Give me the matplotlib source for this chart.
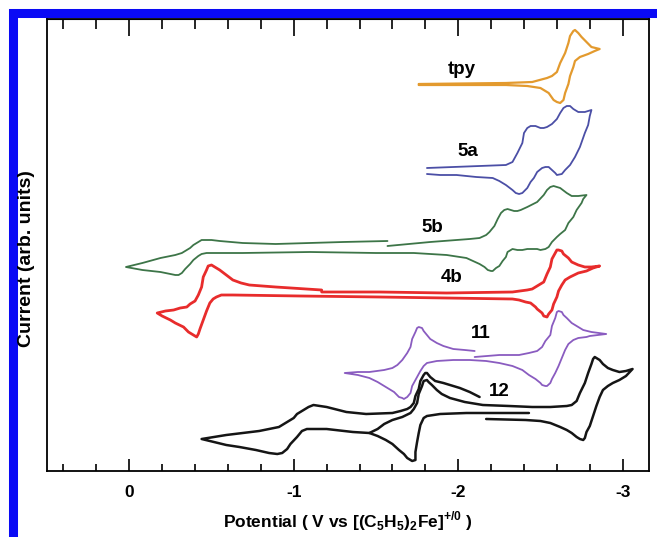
import matplotlib
matplotlib.use("Agg")
import matplotlib.pyplot as plt
from matplotlib.patches import Rectangle
from matplotlib.ticker import MultipleLocator

plt.rcParams['font.family'] = ['Liberation Sans', 'DejaVu Sans']
plt.rcParams['font.weight'] = 'bold'
plt.rcParams['axes.unicode_minus'] = False
plt.rcParams['mathtext.fontset'] = 'custom'
plt.rcParams['mathtext.rm'] = 'Liberation Sans:bold'

# potential (V vs Fc+/0) and current (arb. units, traces stacked)
tpy_E = [-1.76, -2.29, -2.45, -2.54, -2.57, -2.60, -2.62, -2.65, -2.67, -2.68, -2.70, -2.71, -2.73,
         -2.75, -2.78, -2.81, -2.86, -2.83, -2.79, -2.74, -2.71, -2.70, -2.68, -2.67, -2.65, -2.64,
         -2.62, -2.60, -2.58, -2.55, -2.50, -2.42, -2.29, -1.76]
tpy_I = [388, 389, 390, 394, 396, 400, 409, 419, 429, 436, 441, 442, 439,
         435, 430, 425, 423, 421, 418, 415, 411, 405, 396, 388, 379, 372,
         369, 370, 372, 379, 384, 386, 387, 387]

a5_E = [-1.81, -2.29, -2.33, -2.36, -2.39, -2.40, -2.42, -2.44, -2.47, -2.50, -2.52, -2.54, -2.57,
        -2.60, -2.62, -2.64, -2.66, -2.68, -2.70, -2.73, -2.77, -2.81,
        -2.80, -2.79, -2.77, -2.74, -2.71, -2.68, -2.65, -2.63, -2.60, -2.59, -2.57, -2.55, -2.53,
        -2.51, -2.48, -2.46, -2.44, -2.42, -2.39, -2.37, -2.35, -2.33, -2.29, -2.25, -2.21, -2.11,
        -1.99, -1.89, -1.81]
a5_I = [304, 307, 310, 319, 329, 339, 344, 346, 346, 344, 344, 345, 348,
        353, 359, 364, 366, 366, 363, 360, 360, 362,
        356, 347, 339, 325, 315, 307, 302, 298, 297, 299, 302, 305, 305,
        304, 300, 294, 290, 284, 279, 278, 279, 282, 287, 291, 294, 295,
        297, 297, 298]

b5_E = [-1.57, -1.83, -2.07, -2.13, -2.17, -2.19, -2.22, -2.24, -2.26, -2.28, -2.30, -2.32, -2.34,
        -2.36, -2.38, -2.42, -2.48, -2.52, -2.54, -2.56, -2.58, -2.60, -2.62, -2.66, -2.69, -2.73,
        -2.78,
        -2.76, -2.75, -2.72, -2.70, -2.67, -2.65, -2.62, -2.60, -2.57, -2.55, -2.53, -2.50, -2.48,
        -2.42, -2.39, -2.36, -2.33, -2.32, -2.30, -2.29, -2.27, -2.25, -2.23, -2.21, -2.20, -2.18,
        -2.16, -2.13, -2.09, -2.05, -1.93, -1.73, -1.50, -1.10, -0.69, -0.52, -0.47, -0.44, -0.42,
        -0.39, -0.37, -0.34, -0.32, -0.30, -0.28, -0.25, -0.19, -0.08, 0.02,
        -0.08, -0.19, -0.28, -0.32, -0.34, -0.37, -0.39, -0.42, -0.44, -0.47, -0.50, -0.55, -0.69,
        -0.89, -1.30, -1.57]
b5_I = [226, 230, 233, 234, 237, 240, 246, 253, 259, 262, 263, 262, 261,
        261, 262, 265, 270, 277, 282, 285, 286, 285, 284, 279, 276, 276,
        277,
        273, 269, 262, 255, 249, 242, 238, 235, 230, 225, 223, 222, 223,
        223, 222, 222, 223, 222, 220, 215, 211, 206, 204, 201, 201, 202,
        205, 208, 211, 214, 217, 219, 219, 220, 219, 219, 219, 218, 216,
        212, 208, 203, 199, 197, 197, 198, 200, 202, 205,
        209, 214, 217, 219, 221, 224, 227, 230, 232, 232, 232, 231, 229,
        228, 230, 231]

b4_E = [-1.17, -1.52, -1.93, -2.33, -2.42, -2.45, -2.48, -2.52, -2.54, -2.56, -2.57, -2.59, -2.60,
        -2.61, -2.63, -2.64, -2.67, -2.69, -2.73, -2.77, -2.81, -2.86,
        -2.82, -2.78, -2.73, -2.68, -2.65, -2.63, -2.61, -2.60, -2.58, -2.57, -2.55, -2.54, -2.52,
        -2.51, -2.48, -2.47, -2.44, -2.41, -2.37, -2.33, -1.93, -1.52, -1.04, -0.63, -0.56, -0.53,
        -0.51, -0.49, -0.47, -0.45, -0.43, -0.42, -0.41, -0.39, -0.36, -0.33, -0.28, -0.25, -0.20,
        -0.17,
        -0.22, -0.27, -0.31, -0.35, -0.37, -0.40, -0.42, -0.44, -0.45, -0.47, -0.48, -0.50, -0.51,
        -0.53, -0.55, -0.59, -0.63, -0.68, -0.73, -0.89, -1.17]
b4_I = [180, 180, 179, 180, 182, 183, 186, 190, 198, 205, 213, 219, 222,
        222, 221, 218, 214, 210, 207, 205, 205, 206,
        204, 201, 199, 195, 192, 187, 181, 175, 168, 162, 158, 155, 156,
        159, 163, 165, 169, 170, 172, 173, 174, 175, 176, 177, 177, 175,
        173, 169, 161, 152, 143, 138, 135, 137, 140, 145, 149, 152, 156,
        159,
        161, 162, 164, 165, 168, 171, 177, 185, 195, 202, 206, 207, 206,
        204, 202, 197, 192, 189, 187, 185, 182]

c11_E = [-2.10, -2.25, -2.37, -2.43, -2.48, -2.51, -2.53, -2.56, -2.57, -2.59, -2.60, -2.61, -2.63,
         -2.64, -2.66, -2.69, -2.73, -2.76, -2.81, -2.90,
         -2.85, -2.80, -2.78, -2.73, -2.70, -2.67, -2.65, -2.63, -2.61, -2.59, -2.57, -2.56, -2.54,
         -2.53, -2.51, -2.50, -2.47, -2.43, -2.39, -2.33, -2.25, -2.17, -2.07, -1.97, -1.87, -1.81,
         -1.79, -1.77, -1.75, -1.72, -1.71, -1.69, -1.67, -1.66, -1.64, -1.61, -1.56, -1.51, -1.46,
         -1.39, -1.31,
         -1.39, -1.46, -1.55, -1.60, -1.63, -1.66, -1.69, -1.71, -1.72, -1.74, -1.75, -1.76, -1.78,
         -1.79, -1.81, -1.83, -1.87, -1.91, -1.97, -2.04, -2.10]
c11_I = [115, 117, 117, 119, 121, 125, 131, 137, 146, 154, 160, 161, 160,
         157, 154, 149, 145, 142, 140, 138,
         137, 136, 135, 134, 132, 128, 122, 114, 106, 99, 93, 89, 86,
         86, 87, 89, 93, 97, 102, 106, 109, 111, 112, 112, 111, 109,
         106, 101, 95, 86, 79, 75, 73, 74, 75, 80, 85, 90, 94,
         97, 99,
         100, 100, 102, 104, 107, 112, 119, 125, 133, 140, 144, 145, 144,
         141, 137, 133, 129, 126, 123, 122, 121]

# compound 12: two overlapping scans
c12a_E = [-2.17, -2.41, -2.50, -2.56, -2.62, -2.66, -2.69, -2.72, -2.74, -2.76, -2.77, -2.78, -2.80,
          -2.82, -2.84, -2.86, -2.88, -2.91, -2.94, -2.98, -3.02, -3.06,
          -3.02, -2.98, -2.94, -2.91, -2.88, -2.86, -2.84, -2.83, -2.82, -2.81, -2.79, -2.77, -2.74,
          -2.72, -2.69, -2.66, -2.56, -2.45, -2.31, -2.15, -2.04, -1.95, -1.90, -1.87, -1.84, -1.82,
          -1.81, -1.79, -1.78, -1.76, -1.75, -1.73, -1.71, -1.66, -1.60, -1.55, -1.51, -1.46]
c12a_I = [53, 52, 51, 49, 45, 42, 39, 35, 33, 32, 34, 40, 46,
          56, 66, 75, 82, 86, 89, 92, 96, 103,
          101, 100, 102, 104, 108, 112, 114, 115, 113, 108, 99, 89, 79,
          71, 67, 66, 65, 65, 66, 67, 70, 74, 78, 82, 87, 90,
          92, 91, 86, 78, 69, 63, 59, 55, 52, 48, 43, 39]

c12b_E = [-2.43, -2.25, -2.05, -1.89, -1.85, -1.81, -1.79, -1.77, -1.76, -1.75, -1.74, -1.74, -1.72,
          -1.71, -1.69, -1.67, -1.64, -1.60, -1.56, -1.51, -1.46, -1.36, -1.20, -1.10, -1.08, -1.05,
          -1.02, -0.98, -0.96, -0.93, -0.90, -0.85, -0.77, -0.67, -0.59, -0.44,
          -0.59, -0.79, -0.91, -0.96, -1.00, -1.02, -1.06, -1.09, -1.12, -1.16, -1.20, -1.32, -1.44,
          -1.60, -1.65, -1.69, -1.71, -1.73, -1.74, -1.76, -1.77, -1.79, -1.80, -1.81, -1.83, -1.86,
          -1.91, -2.01, -2.07, -2.13]
c12b_I = [59, 59, 59, 58, 57, 56, 54, 47, 39, 30, 20, 12, 11,
          12, 14, 18, 22, 28, 32, 36, 39, 40, 43, 43, 43, 41,
          35, 28, 23, 19, 18, 19, 22, 25, 27, 33,
          37, 41, 45, 50, 54, 58, 62, 65, 67, 66, 65, 60, 58,
          59, 61, 63, 65, 69, 76, 83, 91, 97, 99, 99, 95, 91,
          89, 84, 80, 75]

labels = ['tpy', '5a', '5b', '4b', '11', '12']
label_E = [-2.02, -2.06, -1.84, -1.96, -2.14, -2.25]
label_I = [402, 320, 245, 195, 139, 80]

fig = plt.figure(figsize=(6.57, 5.37), dpi=100)
W, H = 657, 537
ax = fig.add_axes([47 / W, 1 - 471 / H, (649 - 47) / W, (471 - 19) / H])

kw = dict(solid_joinstyle='round', solid_capstyle='round')
ax.plot(tpy_E, tpy_I, color='#E39A2E', lw=1.6, **kw)
ax.plot(a5_E, a5_I, color='#4B4FA6', lw=1.3, **kw)
ax.plot(b5_E, b5_I, color='#3D7548', lw=1.3, **kw)
ax.plot(b4_E, b4_I, color='#E82C2C', lw=2.0, **kw)
ax.plot(c11_E, c11_I, color='#8A5CC0', lw=1.3, **kw)
ax.plot(c12a_E, c12a_I, color='#151515', lw=1.8, **kw)
ax.plot(c12b_E, c12b_I, color='#151515', lw=1.8, **kw)

for t, e, i in zip(labels, label_E, label_I):
    ax.text(e, i, t, fontsize=13.5, fontweight='bold', ha='center', va='center')

ax.set_xlim(0.5, -3.16)
ax.set_ylim(1, 453)
ax.set_xticks([0, -1, -2, -3])
ax.set_xticklabels(['0', '-1', '-2', '-3'])
ax.xaxis.set_minor_locator(MultipleLocator(0.2))
ax.set_yticks([])
ax.tick_params(axis='x', which='both', direction='in', top=False, labelsize=12.5, pad=10, width=1.2)
ax.tick_params(axis='x', which='major', length=9)
ax.tick_params(axis='x', which='minor', length=5)

top = ax.secondary_xaxis('top')
top.set_xticks([0, -1, -2, -3])
top.xaxis.set_minor_locator(MultipleLocator(0.2))
top.tick_params(axis='x', which='both', direction='in', labeltop=False, width=1.2)
top.tick_params(axis='x', which='major', length=12)
top.tick_params(axis='x', which='minor', length=7)

for s in ax.spines.values():
    s.set_linewidth(1.3)

ax.set_xlabel(r'Potential ( V vs [(C$_\mathrm{5}$H$_\mathrm{5}$)$_\mathrm{2}$Fe]$^\mathrm{+/0}$ )',
              fontsize=12.5, fontweight='bold', labelpad=7)
fig.text(27 / W, 1 - 259 / H, 'Current (arb. units)', rotation=90, fontsize=14,
         fontweight='bold', ha='center', va='center')

# blue frame around the panel
fig.patches.append(Rectangle((12.5 / W, -0.5), 2.0, 1 - 12.5 / H + 0.5, transform=fig.transFigure,
                             fill=False, edgecolor='#0A0AF5', linewidth=6.5))

fig.savefig('out.png', dpi=100)
